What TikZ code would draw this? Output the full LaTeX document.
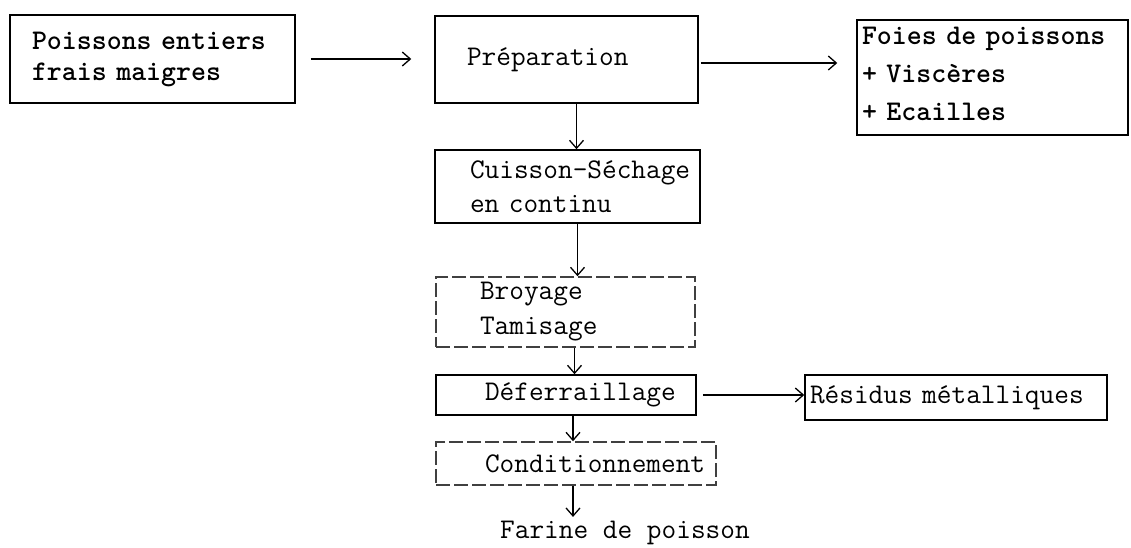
\documentclass[tikz,border=0pt]{standalone}
\usepackage{fontspec}
\usetikzlibrary{arrows.meta}
\begin{document}
\begin{tikzpicture}[x=1pt,y=-1pt,
  every node/.style={font=\fontsize{28.5}{33}\selectfont\ttfamily},
  box/.style={draw, line width=1.5pt, rectangle, inner ysep=0pt, align=left, anchor=center},
  faint/.style={box, dash pattern=on 14pt off 4pt, draw=black!75},
  arr/.style={line width=1.3pt, -{Straight Barb[length=8pt,width=14pt,line width=1.3pt]}}
]
\useasboundingbox (0,0) rectangle (1131,548);

% process boxes
\node[box, minimum width=285pt, minimum height=88pt, inner xsep=22pt, text width=241pt,
      font=\fontsize{28.5}{31}\selectfont\ttfamily\bfseries]
  (raw) at (152.5,59) {Poissons entiers\\frais maigres};
\node[box, minimum width=263pt, minimum height=87pt, inner xsep=32pt, text width=199pt]
  (prep) at (566.5,59.5) {Préparation};
\node[box, minimum width=271pt, minimum height=115pt, inner xsep=5pt, text width=261pt,
      font=\fontsize{28.5}{38}\selectfont\ttfamily\bfseries]
  (waste) at (992.5,77.5) {Foies de poissons\\+ Viscères\\+ Ecailles\vspace{8pt}};
\node[box, minimum width=265pt, minimum height=73pt, inner xsep=35pt, text width=195pt,
      font=\fontsize{28.5}{34}\selectfont\ttfamily]
  (cook) at (567.5,186.5) {Cuisson-Séchage\\en continu};
\node[faint, minimum width=259pt, minimum height=70pt, inner xsep=44pt, text width=171pt,
      font=\fontsize{28.5}{35}\selectfont\ttfamily]
  (grind) at (565.5,312) {Broyage\\Tamisage};
\node[box, minimum width=260pt, minimum height=40pt, inner xsep=49pt, text width=162pt]
  (iron) at (566,395) {Déferraillage};
\node[box, minimum width=302pt, minimum height=45pt, inner xsep=5pt, text width=292pt]
  (metal) at (956,397.5) {Résidus métalliques};
\node[faint, minimum width=280pt, minimum height=43pt, inner xsep=49pt, text width=182pt]
  (pack) at (576,463.5) {Conditionnement};
\node[anchor=west, inner sep=0pt] (meal) at (500,533) {Farine de poisson};

% flow arrows
\draw[arr, shorten <=15pt, shorten >=23pt] (raw.east) -- (prep.west |- raw.east);
\draw[arr, shorten <=2pt, shorten >=19pt] ([yshift=-3.5pt]prep.east) -- ([yshift=-3.5pt]prep.east -| waste.west);
\draw[arr] ([xshift=10pt]prep.south) -- ([xshift=10pt]prep.south |- cook.north);
\draw[arr] ([xshift=10pt]cook.south) -- ([xshift=10pt]cook.south |- grind.north);
\draw[arr] ([xshift=9pt]grind.south) -- ([xshift=9pt]grind.south |- iron.north);
\draw[arr] ([xshift=7pt]iron.south) -- ([xshift=7pt]iron.south |- pack.north);
\draw[arr, shorten >=4pt] ([xshift=-3pt]pack.south) -- ([xshift=-3pt]pack.south |- meal.north);
\draw[arr, shorten <=6pt] (iron.east) -- (metal.west |- iron.east);
\end{tikzpicture}
\end{document}
